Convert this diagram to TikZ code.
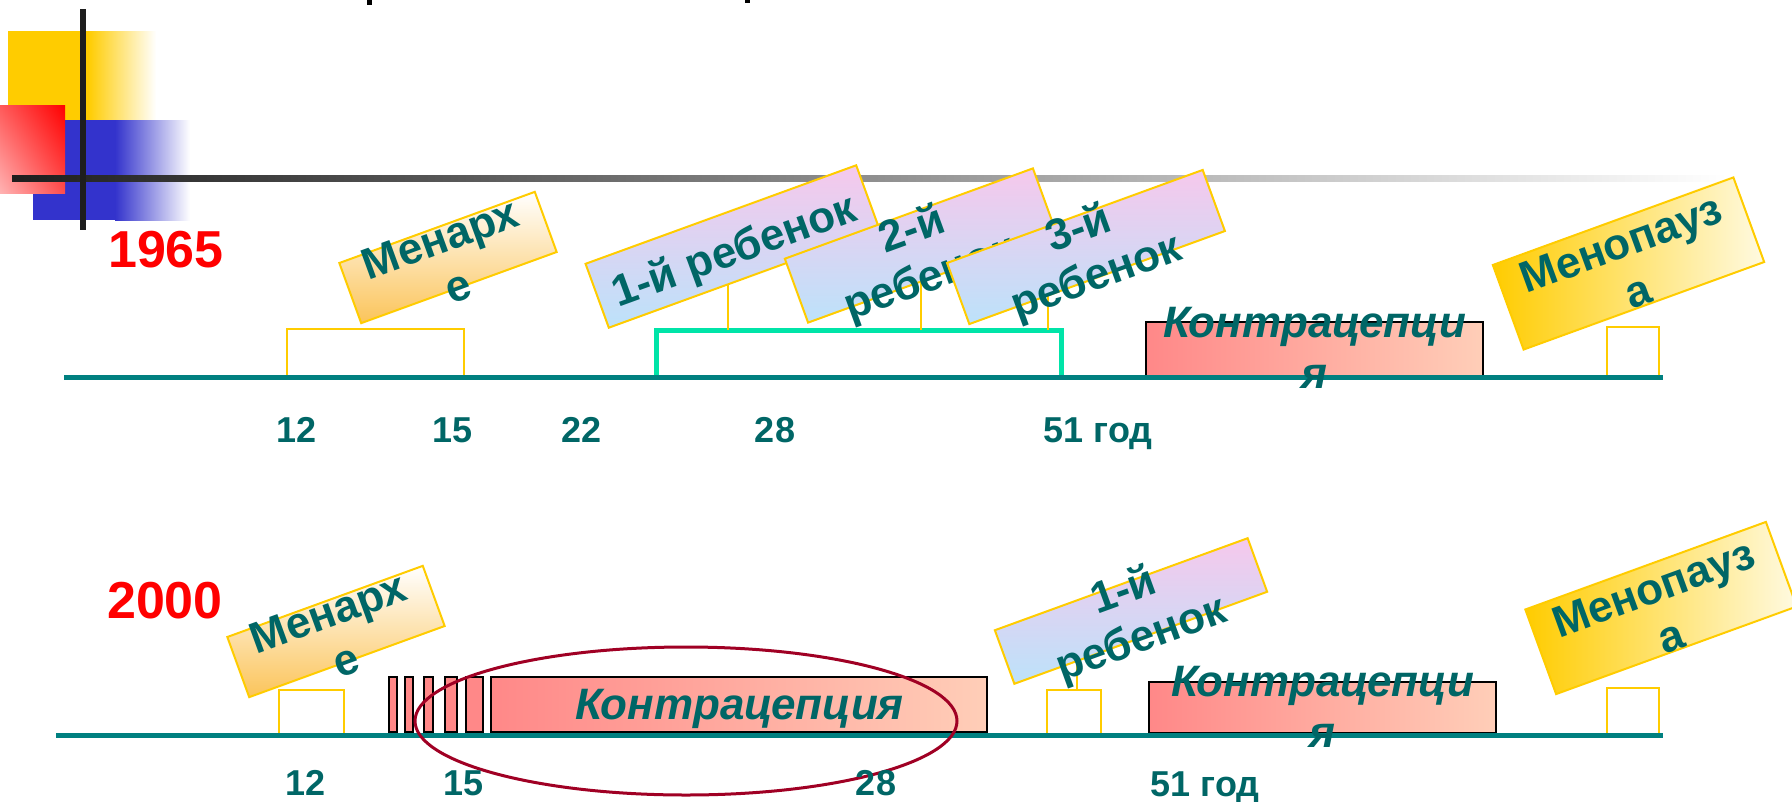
\documentclass[tikz,border=0pt]{standalone}
\usepackage{fontspec}
\setmainfont{Liberation Sans}
\usetikzlibrary{shadings}
\definecolor{tealtext}{RGB}{0,102,102}
\definecolor{tealline}{RGB}{0,128,128}
\definecolor{goldc}{RGB}{255,204,0}
\definecolor{orngc}{RGB}{251,196,90}
\definecolor{pinkc}{RGB}{246,200,236}
\definecolor{bluec}{RGB}{188,226,250}
\definecolor{salmonc}{RGB}{255,136,136}
\definecolor{peachc}{RGB}{255,206,184}
\definecolor{aquag}{RGB}{0,228,168}
\definecolor{ellc}{RGB}{160,0,36}
\definecolor{blk}{RGB}{30,30,30}
\definecolor{bluesq}{RGB}{51,51,204}
\definecolor{lightyel}{RGB}{255,250,225}
\tikzset{
  lbl/.style={text=tealtext, font=\bfseries\fontsize{44}{51}\selectfont, align=center, inner sep=0pt},
  ilbl/.style={text=tealtext, font=\bfseries\itshape\fontsize{44}{51}\selectfont, align=center, inner sep=0pt},
  num/.style={text=tealtext, font=\bfseries\fontsize{36}{40}\selectfont, inner sep=0pt, anchor=base},
  yearlbl/.style={text=red, font=\bfseries\fontsize{52}{56}\selectfont, inner sep=0pt, anchor=base},
  menbox/.style={draw=goldc, line width=2, top color=white, bottom color=orngc, inner sep=0pt, rotate=20},
  kidbox/.style={draw=goldc, line width=2, top color=pinkc, bottom color=bluec, inner sep=0pt, rotate=20},
  pausebox/.style={draw=goldc, line width=2, left color=goldc, right color=lightyel, inner sep=0pt, rotate=20},
  contbox/.style={draw=black, line width=2, left color=salmonc, right color=peachc, inner sep=0pt},
  barbox/.style={draw=black, line width=2, fill=salmonc, inner sep=0pt},
  brk/.style={draw=goldc, line width=2},
  kidline/.style={draw=goldc, line width=1.5},
  tline/.style={draw=tealline, line width=5},
}
\begin{document}
\begin{tikzpicture}[x=1pt,y=-1pt]
\useasboundingbox (0,0) rectangle (1792,801);
\fill[white] (0,0) rectangle (1792,801);
% title descenders cut off at top
\fill[black] (367,0) rectangle (372,5);
\fill[black] (745,0) rectangle (750,3);
% corner decoration
\fill[goldc] (8,31) rectangle (88,120);
\shade[left color=goldc, right color=white] (88,31) rectangle (156,120);
\fill[bluesq] (33,120) rectangle (115,220);
\shade[left color=bluesq, right color=white] (115,120) rectangle (190,220);
\shade[upper right=red, lower left=red!30, upper left=red!65, lower right=red!70] (0,105) rectangle (65,193);
\shade[left color=blk, right color=white] (12,175) rectangle (1727,181);
\draw[blk, line width=6] (83,9) -- (83,230);

% ===== 1965 =====
\node[yearlbl] (y1) at (166,267) {1965};
\draw[brk] (287,377) |- (464,329) -- (464,377);
\draw[aquag, line width=5] (656,377) |- (1061,330) -- (1061,377);
\coordinate (g1) at (728,330);
\coordinate (g2) at (921,330);
\coordinate (g3) at (1048,330);
\draw[brk] (1607,377) |- (1659,327) -- (1659,377);
\node[contbox, minimum width=337, minimum height=54] (c1) at (1314.5,349) {};

\node[menbox, minimum width=208, minimum height=64] (m1) at (448,257.5) {};
\node[lbl, rotate=20] (m1t) at ([shift={(1,5)}]m1.center) {Менарх\\е};

\draw[kidline] (g1) -- (g1 |- 0,260);
\draw[kidline] (g2) -- (g2 |- 0,260);
\draw[kidline] (g3) -- (g3 |- 0,260);
\node[kidbox, minimum width=288, minimum height=68] (k1) at (732.5,246.5) {};
\node[lbl, rotate=20] (k1t) at ([shift={(2,6)}]k1.center) {1-й ребенок};
\node[kidbox, minimum width=264, minimum height=68] (k2) at (920.5,245.5) {};
\node[lbl, rotate=20] (k2t) at ([shift={(1,10)}]k2.center) {2-й\\ребенок};
\node[kidbox, minimum width=272, minimum height=65] (k3) at (1086,247) {};
\node[lbl, rotate=20] (k3t) at ([shift={(2,7)}]k3.center) {3-й\\ребенок};

\node[pausebox, minimum width=256, minimum height=90] (p1) at (1628.5,263.5) {};
\node[lbl, rotate=20] (p1t) at ([shift={(1,4)}]p1.center) {Менопауз\\а};

\draw[tline] (64,377) -- (1663,377);
\node[ilbl] (c1t) at ([shift={(0,-1)}]c1.center) {Контрацепци\\я};

\node[num] (n12a) at (297,442) {12};
\node[num] (n15a) at (453,442) {15};
\node[num] (n22a) at (582,442) {22};
\node[num] (n28a) at (775,442) {28};
\node[num] (n51a) at (1098,442) {51 год};

% ===== 2000 =====
\node[yearlbl] (y2) at (165,618) {2000};
\draw[brk] (279,735) |- (344,690) -- (344,735);
\coordinate (g4) at (1077,690);
\draw[brk] (1047,735) |- (1101,690) -- (1101,735);
\draw[brk] (1607,735) |- (1659,688) -- (1659,735);

\node[barbox, minimum width=8, minimum height=55] (b1) at (393,704.5) {};
\node[barbox, minimum width=8, minimum height=55] (b2) at (409,704.5) {};
\node[barbox, minimum width=9, minimum height=55] (b3) at (428.5,704.5) {};
\node[barbox, minimum width=12, minimum height=55] (b4) at (451,704.5) {};
\node[barbox, minimum width=17, minimum height=55] (b5) at (474.5,704.5) {};
\node[contbox, minimum width=496, minimum height=55] (c2) at (739,704.5) {};
\node[ilbl] (c2t) at (739.5,709) {Контрацепция};
\node[contbox, minimum width=347, minimum height=51] (c3) at (1322.5,707.5) {};

\node[menbox, minimum width=208, minimum height=64] (m2) at (336,631.5) {};
\node[lbl, rotate=20] (m2t) at ([shift={(1,5)}]m2.center) {Менарх\\е};

\draw[kidline] (g4) -- (g4 |- 0,640);
\node[kidbox, minimum width=269, minimum height=57] (k4) at (1131,611) {};
\node[lbl, rotate=20] (k4t) at ([shift={(2,5)}]k4.center) {1-й\\ребенок};

\node[pausebox, minimum width=256, minimum height=90] (p2) at (1661,608) {};
\node[lbl, rotate=20] (p2t) at ([shift={(1,4)}]p2.center) {Менопауз\\а};

\draw[tline] (56,735) -- (1663,735);
\node[ilbl] (c3t) at ([shift={(0,-1)}]c3.center) {Контрацепци\\я};

\draw[ellc, line width=3] (686,721) ellipse [x radius=271, y radius=74];

\node[num] (n12b) at (306,795) {12};
\node[num] (n15b) at (464,795) {15};
\node[num] (n28b) at (876,795) {28};
\node[num] (n51b) at (1205,796) {51 год};
\end{tikzpicture}
\end{document}
